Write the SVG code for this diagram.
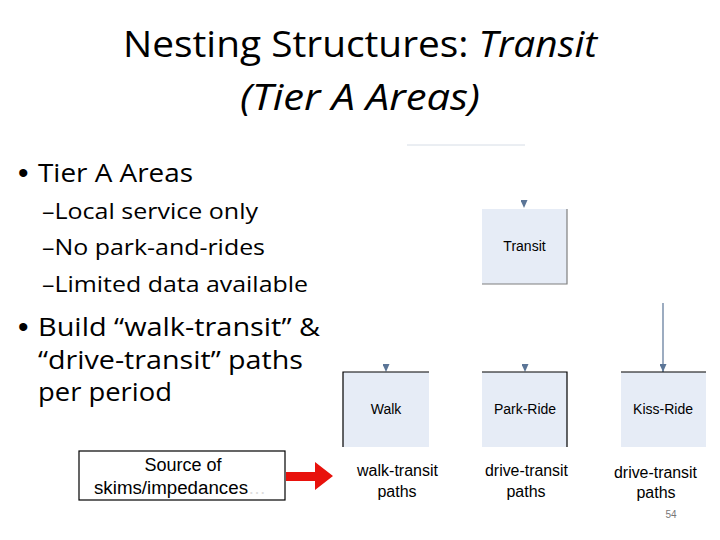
<svg xmlns="http://www.w3.org/2000/svg" width="720" height="540" viewBox="0 0 720 540">
<style>
.cal{font-family:"Open Sans","Noto Sans","Liberation Sans",sans-serif;fill:#000}
.ar{font-family:"Liberation Sans",Arial,sans-serif;fill:#000}
.box{fill:#e6ecf6}
.conn{stroke:#5b7597;stroke-width:1.2;fill:none}
.bul{font-family:"Liberation Sans",Arial,sans-serif;fill:#000;font-size:30px}
</style>
<defs>
<marker id="tri" markerWidth="8" markerHeight="7" refX="8" refY="3.5" orient="auto" markerUnits="userSpaceOnUse" viewBox="0 0 8 7">
<path d="M0,0 L8,3.5 L0,7 Z" fill="#5b7597"/>
</marker>
</defs>
<rect width="720" height="540" fill="#fff"/>
<g id="title">
<text class="cal" x="123" y="57" font-size="36" textLength="474" lengthAdjust="spacingAndGlyphs">Nesting Structures: <tspan font-style="italic">Transit</tspan></text>
<text class="cal" x="240" y="110" font-size="36" font-style="italic" textLength="240" lengthAdjust="spacingAndGlyphs">(Tier A Areas)</text>
</g>
<g id="bullets">
<text class="bul" x="18" y="183">•</text>
<text class="cal" x="38" y="182" font-size="25" textLength="155" lengthAdjust="spacingAndGlyphs">Tier A Areas</text>
<text class="cal" x="42" y="219" font-size="22" textLength="216" lengthAdjust="spacingAndGlyphs">–Local service only</text>
<text class="cal" x="42" y="255" font-size="22" textLength="223" lengthAdjust="spacingAndGlyphs">–No park-and-rides</text>
<text class="cal" x="42" y="292" font-size="22" textLength="266" lengthAdjust="spacingAndGlyphs">–Limited data available</text>
<text class="bul" x="18" y="337">•</text>
<text class="cal" x="38" y="336" font-size="25" textLength="282" lengthAdjust="spacingAndGlyphs">Build “walk-transit” &amp;</text>
<text class="cal" x="38" y="369" font-size="25" textLength="265" lengthAdjust="spacingAndGlyphs">“drive-transit” paths</text>
<text class="cal" x="38" y="401" font-size="25" textLength="134" lengthAdjust="spacingAndGlyphs">per period</text>
</g>
<line x1="407" y1="145" x2="525" y2="145" stroke="#d6dde6" stroke-width="1"/>
<g id="connectors">
<line class="conn" x1="524" y1="199" x2="524" y2="208" stroke-opacity="0" marker-end="url(#tri)"/>
<line class="conn" x1="386" y1="363" x2="386" y2="372" stroke-opacity="0" marker-end="url(#tri)"/>
<line class="conn" x1="525" y1="363" x2="525" y2="372" stroke-opacity="0" marker-end="url(#tri)"/>
<line class="conn" x1="663" y1="303" x2="663" y2="372" marker-end="url(#tri)"/>
</g>
<g id="node-transit">
<rect class="box" x="482" y="209" width="85" height="75"/>
<path d="M567,209 V284 H482" stroke="#7f7f7f" stroke-width="1.2" fill="none"/>
<text class="ar" x="524.5" y="251" font-size="14" text-anchor="middle">Transit</text>
</g>
<g id="node-walk">
<rect class="box" x="343" y="372" width="86" height="75"/>
<path d="M343,447 V372 H429" stroke="#000" stroke-width="1.2" fill="none"/>
<text class="ar" x="386" y="414" font-size="14" text-anchor="middle">Walk</text>
</g>
<g id="node-parkride">
<rect class="box" x="482" y="372" width="85" height="75"/>
<path d="M482,372 H567 V447" stroke="#000" stroke-width="1.2" fill="none"/>
<text class="ar" x="525" y="414" font-size="14" text-anchor="middle">Park-Ride</text>
</g>
<g id="node-kissride">
<rect class="box" x="621" y="372" width="85" height="75"/>
<path d="M621,372 H706" stroke="#000" stroke-width="1.2" fill="none"/>
<text class="ar" x="663" y="414" font-size="14" text-anchor="middle">Kiss-Ride</text>
</g>
<g id="labels">
<text class="ar" x="357" y="476" font-size="16" textLength="81" lengthAdjust="spacingAndGlyphs">walk-transit</text>
<text class="ar" x="397" y="497" font-size="16" text-anchor="middle">paths</text>
<text class="ar" x="485" y="476" font-size="16" textLength="83" lengthAdjust="spacingAndGlyphs">drive-transit</text>
<text class="ar" x="526" y="497" font-size="16" text-anchor="middle">paths</text>
<text class="ar" x="614" y="478" font-size="16" textLength="83" lengthAdjust="spacingAndGlyphs">drive-transit</text>
<text class="ar" x="656" y="498" font-size="16" text-anchor="middle">paths</text>
<text class="ar" x="671" y="518" font-size="10" text-anchor="middle" style="fill:#777">54</text>
</g>
<g id="node-source">
<rect x="79" y="451" width="206" height="49" fill="#fff" stroke="#000" stroke-width="1.2"/>
<text class="ar" x="183" y="471" font-size="18" text-anchor="middle">Source of</text>
<text class="ar" x="94" y="494" font-size="18"><tspan textLength="154" lengthAdjust="spacingAndGlyphs">skims/impedances</tspan><tspan style="fill:#ddd">…</tspan></text>
</g>
<g id="red-arrow">
<path d="M286,472 H315 V462 L333,476 L315,490 V481 H286 Z" fill="#e8120c"/>
</g>
</svg>
